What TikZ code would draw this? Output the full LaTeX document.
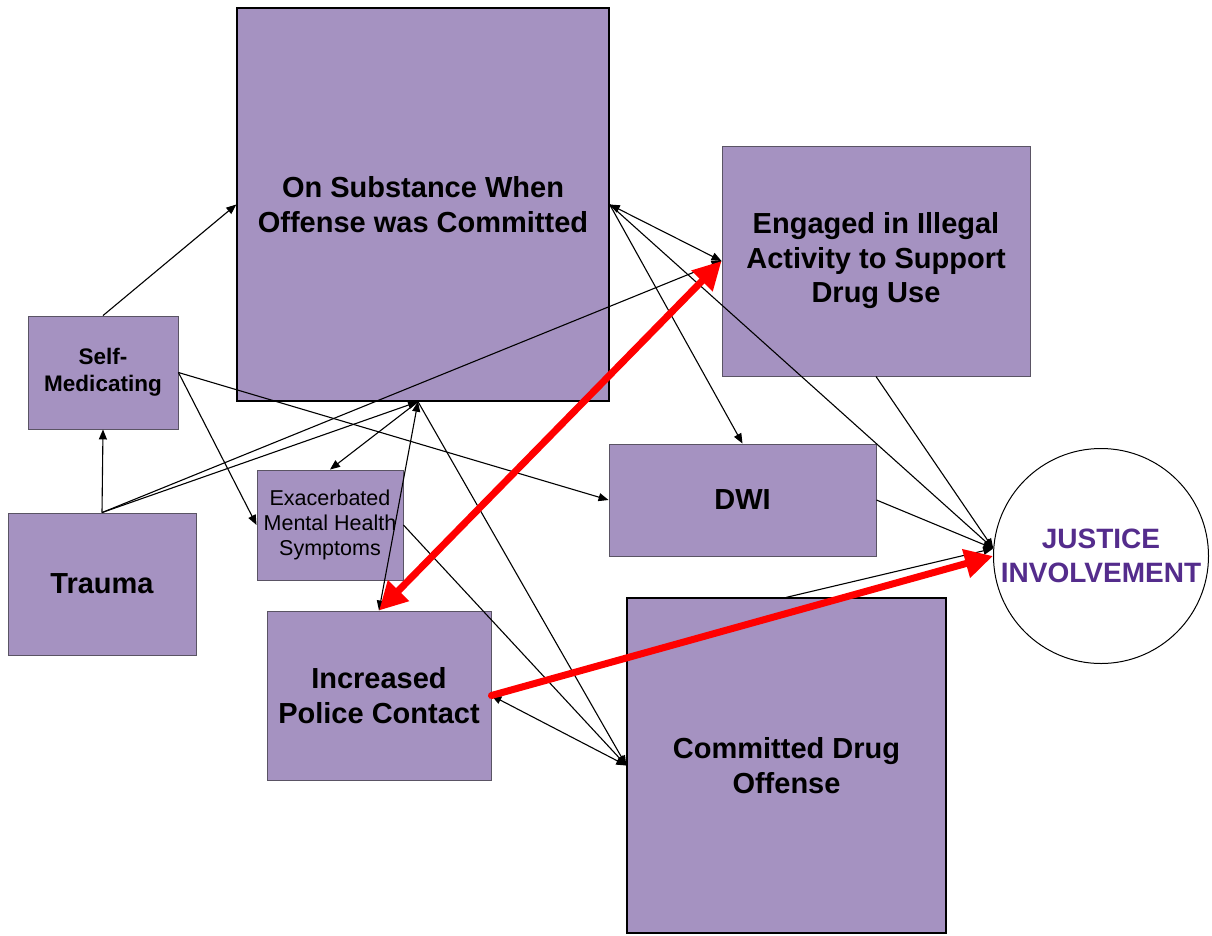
\documentclass[tikz,border=0pt]{standalone}
\usepackage{fontspec}
\setmainfont{Liberation Sans}
\usetikzlibrary{arrows.meta}
\definecolor{boxfill}{RGB}{165,146,193}
\definecolor{boxline}{RGB}{90,84,100}
\definecolor{justicetext}{RGB}{84,44,140}
\tikzset{blk/.tip={Triangle[length=10pt,width=8pt]},
  redtip/.tip={Triangle[length=28pt,width=28pt]}}

\begin{document}
\begin{tikzpicture}[x=1pt,y=-1pt,
  box/.style={draw=boxline,line width=0.9pt,fill=boxfill,inner sep=0pt,align=center,
    font=\bfseries\fontsize{29}{34.5}\selectfont},
  bigbox/.style={box,draw=black,line width=1.4pt},
  link/.style={line width=1.1pt,-blk},
  twoway/.style={line width=1.1pt,blk-blk},
  redlink/.style={red,line width=7pt,line cap=round,-redtip}]
\useasboundingbox (0,0) rectangle (1212,935);

% boxes
\node[bigbox,minimum width=372pt,minimum height=393pt] (onsub) at (423,204.5)
  {On Substance When\\Offense was Committed};
\node[box,minimum width=308pt,minimum height=230pt] (engaged) at (876,261)
  {Engaged in Illegal\\Activity to Support\\Drug Use};
\node[box,minimum width=150pt,minimum height=113pt,font=\bfseries\fontsize{22.5}{27}\selectfont]
  (selfmed) at (103,372.5) {Self-\\Medicating};
\node[box,minimum width=188pt,minimum height=142pt] (trauma) at (102,584) {Trauma};
\node[box,minimum width=146pt,minimum height=110pt,font=\fontsize{21.5}{25}\selectfont]
  (exacer) at (330,525) {Exacerbated\\Mental Health\\Symptoms};
\node[box,minimum width=267pt,minimum height=112pt] (dwi) at (742.5,500) {DWI};
\node[box,minimum width=224pt,minimum height=169pt] (police) at (379,695.5)
  {Increased\\Police Contact};
\node[bigbox,minimum width=319pt,minimum height=335pt] (drug) at (786.5,765.5)
  {Committed Drug\\Offense};
\node[circle,draw=black,line width=1pt,fill=white,minimum size=215pt,inner sep=0pt,align=center,
  text=justicetext,font=\bfseries\fontsize{28}{34.5}\selectfont] (justice) at (1101,556)
  {JUSTICE\\INVOLVEMENT};

\coordinate (hubS) at ([xshift=-5pt]onsub.south);
\coordinate (hubJ) at (justice.176);

% trauma and self-medicating
\draw[link] (trauma.north) -- (selfmed.south);
\draw[link] (selfmed.north) -- (onsub.west);
\draw[link] (trauma.north) -- (engaged.west);
\draw[link] (trauma.north) -- (hubS);
\draw[link] (selfmed.east) -- (exacer.west);
\draw[link] (selfmed.east) -- (dwi.west);

% on substance
\draw[link] (hubS) -- (exacer.north);
\draw[twoway] (hubS) -- (police.north);
\draw[link] (hubS) -- (drug.west);
\draw[link] (exacer.east) -- (drug.west);
\draw[twoway] (police.east) -- (drug.west);
\draw[twoway] (onsub.east) -- (engaged.west);
\draw[link] (onsub.east) -- (dwi.north);

% into justice
\draw[link] (onsub.east) -- (hubJ);
\draw[link] (engaged.south) -- (hubJ);
\draw[link] (dwi.east) -- (hubJ);
\draw[link] (drug.north) -- (hubJ);

% red
\draw[redlink,redtip-redtip] (police.north) -- (engaged.west);
\draw[redlink] (police.east) -- (justice.west);
\end{tikzpicture}
\end{document}
